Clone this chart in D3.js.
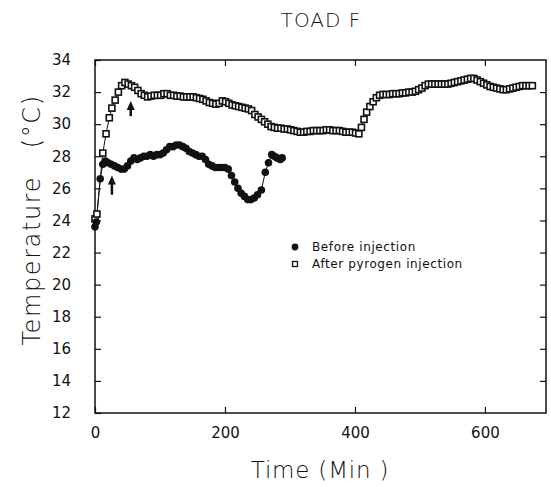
<!DOCTYPE html>
<html lang="en">
<head>
<meta charset="utf-8">
<title>TOAD F</title>
<script src="https://cdn.jsdelivr.net/npm/d3@7"></script>
<style>
  body { margin: 0; background: #fff; }
  text { font-family: "DejaVu Sans", sans-serif; fill: #111; }
</style>
</head>
<body>
<script>
// data
var beforeTime = [0, 2, 8, 12, 16, 20, 25, 30, 35, 40, 45, 50, 55, 60, 65, 70, 75, 80, 85, 90, 95, 100, 105, 110, 115, 120, 125, 130, 135, 140, 145, 150, 155, 160, 165, 170, 175, 180, 185, 190, 195, 200, 205, 210, 215, 220, 225, 230, 235, 240, 245, 250, 256, 262, 267, 272, 276, 280, 285, 288];
var beforeTemp = [23.6, 23.9, 26.6, 27.5, 27.7, 27.6, 27.5, 27.4, 27.3, 27.2, 27.2, 27.4, 27.7, 27.9, 27.8, 27.9, 28.0, 28.0, 28.1, 28.0, 28.1, 28.1, 28.2, 28.4, 28.6, 28.6, 28.7, 28.7, 28.6, 28.5, 28.3, 28.2, 28.1, 28.0, 28.0, 27.8, 27.5, 27.4, 27.3, 27.3, 27.3, 27.3, 27.2, 26.8, 26.4, 26.0, 25.7, 25.5, 25.3, 25.3, 25.4, 25.6, 25.9, 27.0, 27.6, 28.1, 28.0, 27.9, 27.8, 27.9];

var afterTime = [0, 3, 12, 17, 22, 26, 31, 36, 41, 46, 51, 56, 61, 66, 71, 76, 81, 86, 91, 96, 101, 106, 111, 116, 121, 126, 131, 136, 141, 146, 151, 156, 161, 166, 171, 176, 181, 186, 191, 196, 201, 206, 211, 216, 221, 226, 231, 236, 241, 246, 251, 256, 261, 266, 271, 276, 281, 286, 291, 296, 301, 306, 311, 316, 321, 326, 331, 336, 341, 346, 351, 356, 361, 366, 371, 376, 381, 386, 391, 396, 401, 406, 410, 414, 418, 423, 428, 433, 438, 443, 448, 453, 458, 463, 468, 473, 478, 483, 488, 493, 498, 503, 508, 513, 518, 523, 528, 533, 538, 543, 548, 553, 558, 563, 568, 573, 578, 583, 588, 593, 598, 603, 608, 613, 618, 623, 628, 633, 638, 643, 648, 653, 658, 663, 668, 673];
var afterTemp = [24.1, 24.4, 28.2, 29.4, 30.4, 31.0, 31.5, 32.0, 32.4, 32.6, 32.5, 32.4, 32.3, 32.1, 31.9, 31.8, 31.7, 31.75, 31.8, 31.8, 31.8, 31.9, 31.9, 31.8, 31.8, 31.75, 31.75, 31.7, 31.7, 31.7, 31.7, 31.65, 31.6, 31.55, 31.45, 31.35, 31.3, 31.25, 31.3, 31.45, 31.4, 31.3, 31.2, 31.15, 31.1, 31.05, 31.0, 30.95, 30.85, 30.6, 30.45, 30.3, 30.15, 30.0, 29.85, 29.8, 29.75, 29.75, 29.7, 29.7, 29.65, 29.6, 29.55, 29.5, 29.5, 29.55, 29.55, 29.6, 29.6, 29.6, 29.6, 29.65, 29.65, 29.6, 29.6, 29.6, 29.55, 29.5, 29.5, 29.5, 29.45, 29.4, 29.8, 30.3, 30.75, 31.1, 31.4, 31.65, 31.8, 31.85, 31.85, 31.85, 31.9, 31.9, 31.9, 31.95, 31.95, 32.0, 32.0, 32.05, 32.15, 32.25, 32.4, 32.5, 32.5, 32.5, 32.5, 32.5, 32.5, 32.5, 32.55, 32.6, 32.65, 32.7, 32.75, 32.8, 32.85, 32.85, 32.75, 32.65, 32.55, 32.45, 32.35, 32.3, 32.25, 32.2, 32.15, 32.15, 32.2, 32.25, 32.3, 32.35, 32.4, 32.4, 32.4, 32.4];

// arrows: [time, tail temp, head temp]
var arrowMarks = [[26, 25.6, 26.8], [55, 30.5, 31.45]];

var xTicks = [0, 200, 400, 600];
var yTicks = [12, 14, 16, 18, 20, 22, 24, 26, 28, 30, 32, 34];

var w = 551, h = 487;
var plotL = 95, plotR = 546, plotT = 60, plotB = 413;

var x = d3.scaleLinear().domain([0, 694]).range([plotL, plotR]);
var y = d3.scaleLinear().domain([12, 34]).range([plotB, plotT]);

var svg = d3.select("body").append("svg")
    .attr("width", w)
    .attr("height", h);

// frame
svg.append("rect")
    .attr("x", plotL).attr("y", plotT)
    .attr("width", plotR - plotL).attr("height", plotB - plotT)
    .attr("fill", "none").attr("stroke", "#111").attr("stroke-width", 1.5);

// axes, ticks pointing inward on all sides
var bottomAxis = svg.append("g").attr("transform", "translate(0," + plotB + ")")
    .call(d3.axisBottom(x).tickValues(xTicks).tickSizeInner(-6).tickSizeOuter(0).tickPadding(14));
var topAxis = svg.append("g").attr("transform", "translate(0," + plotT + ")")
    .call(d3.axisTop(x).tickValues(xTicks).tickSizeInner(-6).tickSizeOuter(0).tickFormat(""));
var leftAxis = svg.append("g").attr("transform", "translate(" + plotL + ",0)")
    .call(d3.axisLeft(y).tickValues(yTicks).tickSizeInner(-6).tickSizeOuter(0).tickPadding(24));
var rightAxis = svg.append("g").attr("transform", "translate(" + plotR + ",0)")
    .call(d3.axisRight(y).tickValues(yTicks.slice(1, -1)).tickSizeInner(-6).tickSizeOuter(0).tickFormat(""));

[bottomAxis, topAxis, leftAxis, rightAxis].forEach(function(g) {
    g.select(".domain").remove();
    g.selectAll("line").attr("stroke", "#111").attr("stroke-width", 1.2);
    g.selectAll("text").attr("font-size", 15).attr("fill", "#111")
        .style("font-family", "DejaVu Sans, sans-serif");
});

var line = d3.line()
    .x(function(d) { return x(d[0]); })
    .y(function(d) { return y(d[1]); });

var before = beforeTime.map(function(t, i) { return [t, beforeTemp[i]]; });
var after = afterTime.map(function(t, i) { return [t, afterTemp[i]]; });

svg.append("path").datum(before).attr("d", line)
    .attr("fill", "none").attr("stroke", "#111").attr("stroke-width", 1);
svg.append("path").datum(after).attr("d", line)
    .attr("fill", "none").attr("stroke", "#111").attr("stroke-width", 1);

svg.selectAll("rect.after").data(after).enter().append("rect")
    .attr("class", "after")
    .attr("x", function(d) { return x(d[0]) - 3; })
    .attr("y", function(d) { return y(d[1]) - 3; })
    .attr("width", 6).attr("height", 6)
    .attr("fill", "#fff").attr("stroke", "#111").attr("stroke-width", 1.6);

svg.selectAll("circle.before").data(before).enter().append("circle")
    .attr("class", "before")
    .attr("cx", function(d) { return x(d[0]); })
    .attr("cy", function(d) { return y(d[1]); })
    .attr("r", 3.8)
    .attr("fill", "#111");

// arrows
arrowMarks.forEach(function(a) {
    var ax = x(a[0]), y0 = y(a[1]), y1 = y(a[2]);
    svg.append("line").attr("x1", ax).attr("x2", ax).attr("y1", y0).attr("y2", y1 + 6)
        .attr("stroke", "#111").attr("stroke-width", 2.5);
    svg.append("path")
        .attr("d", "M" + ax + "," + y1 + "L" + (ax - 4) + "," + (y1 + 9) + "L" + (ax + 4) + "," + (y1 + 9) + "Z")
        .attr("fill", "#111");
});

// legend
var legend = svg.append("g").attr("transform", "translate(295,247)");
legend.append("circle").attr("cx", 0).attr("cy", 0).attr("r", 3.4).attr("fill", "#111");
legend.append("rect").attr("x", -2.5).attr("y", 14.5).attr("width", 5).attr("height", 5)
    .attr("fill", "#fff").attr("stroke", "#111").attr("stroke-width", 1.3);
legend.append("text").attr("x", 17).attr("y", 4).attr("font-size", 12)
    .attr("letter-spacing", 0.6).text("Before injection");
legend.append("text").attr("x", 17).attr("y", 21).attr("font-size", 12)
    .attr("letter-spacing", 0.6).text("After pyrogen injection");

// titles
svg.append("text").attr("x", 321).attr("y", 27).attr("text-anchor", "middle")
    .attr("font-size", 20).attr("letter-spacing", 1).style("font-weight", 300).text("TOAD F");
svg.append("text").attr("x", 320).attr("y", 478).attr("text-anchor", "middle")
    .attr("font-size", 23).attr("letter-spacing", 0.8).style("font-weight", 300).text("Time (Min )");
svg.append("text")
    .attr("transform", "translate(40," + 220 + ") rotate(-90)")
    .attr("text-anchor", "middle")
    .attr("font-size", 24).attr("letter-spacing", 1.6).style("font-weight", 300)
    .attr("xml:space", "preserve")
    .text("Temperature   (°C)");
</script>
</body>
</html>
